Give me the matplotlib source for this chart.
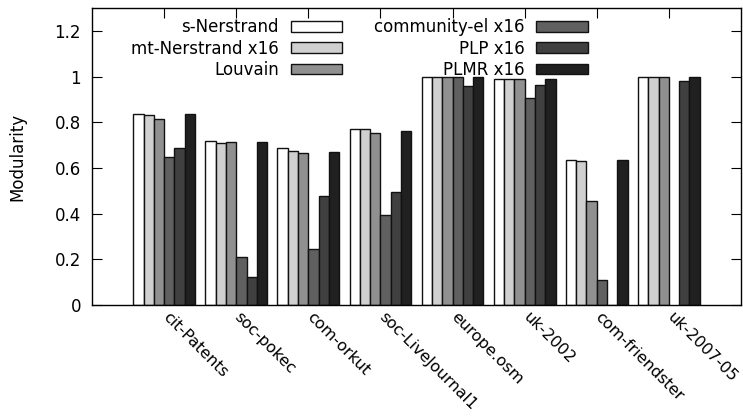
import numpy as np
import matplotlib
matplotlib.use("Agg")
import matplotlib.pyplot as plt
from matplotlib.transforms import ScaledTranslation

categories = ["cit-Patents", "soc-pokec", "com-orkut", "soc-LiveJournal1",
              "europe.osm", "uk-2002", "com-friendster", "uk-2007-05"]
series_names = ["s-Nerstrand", "mt-Nerstrand x16", "Louvain",
                "community-el x16", "PLP x16", "PLMR x16"]
s_nerstrand = [0.835, 0.716, 0.689, 0.770, 0.999, 0.991, 0.636, 0.998]
mt_nerstrand = [0.832, 0.709, 0.675, 0.770, 0.999, 0.991, 0.632, 0.998]
louvain = [0.813, 0.715, 0.665, 0.753, 0.999, 0.991, 0.456, 0.998]
community_el = [0.649, 0.211, 0.246, 0.393, 0.999, 0.904, 0.110, np.nan]
plp = [0.686, 0.121, 0.478, 0.496, 0.960, 0.962, 0.0, 0.979]
plmr = [0.838, 0.712, 0.671, 0.763, 0.999, 0.991, 0.636, 0.998]
series = [s_nerstrand, mt_nerstrand, louvain, community_el, plp, plmr]
colors = ["#ffffff", "#d0d0d0", "#909090", "#606060", "#404040", "#202020"]

plt.rcParams['font.family'] = ['DejaVu Sans']
fig = plt.figure(figsize=(7.43, 4.20), dpi=100)
ax = fig.add_axes([92/743, 1-305/420, (741-92)/743, (305-8)/420])

x = np.arange(len(categories))
w = 1/7
for i, (name, vals, c) in enumerate(zip(series_names, series, colors)):
    ax.bar(x + (i - 2.5) * w, vals, width=w, color=c, edgecolor="#111111",
           linewidth=1.0, label=name, zorder=2)

ax.set_xlim(-1, 8)
ax.set_ylim(0, 1.3)
ax.set_yticks([0, 0.2, 0.4, 0.6, 0.8, 1.0, 1.2])
ax.set_yticklabels(["0", "0.2", "0.4", "0.6", "0.8", "1", "1.2"], fontsize=12)
ax.set_xticks(x)
ax.set_xticklabels(categories, rotation=-45, ha="left", va="top",
                   rotation_mode="anchor", fontsize=11.5)
ax.tick_params(axis="both", direction="in", length=7, width=0.8,
               top=True, right=True, bottom=False)
ax.tick_params(axis="x", pad=3)
ax.tick_params(axis="y", pad=8)
offset = ScaledTranslation(6/100, 0, fig.dpi_scale_trans)
for lab in ax.get_xticklabels():
    lab.set_transform(lab.get_transform() + offset)
for s in ax.spines.values():
    s.set_linewidth(1.0)
ax.set_ylabel("Modularity", fontsize=12, labelpad=20)

leg = ax.legend(ncol=2, markerfirst=False, loc="upper left",
                bbox_to_anchor=(0.05, 0.988), frameon=False, fontsize=12,
                handlelength=3.1, handleheight=0.6, handletextpad=0.7,
                columnspacing=1.92, labelspacing=0.2, borderaxespad=0.0)

fig.savefig("out.png", dpi=100)
